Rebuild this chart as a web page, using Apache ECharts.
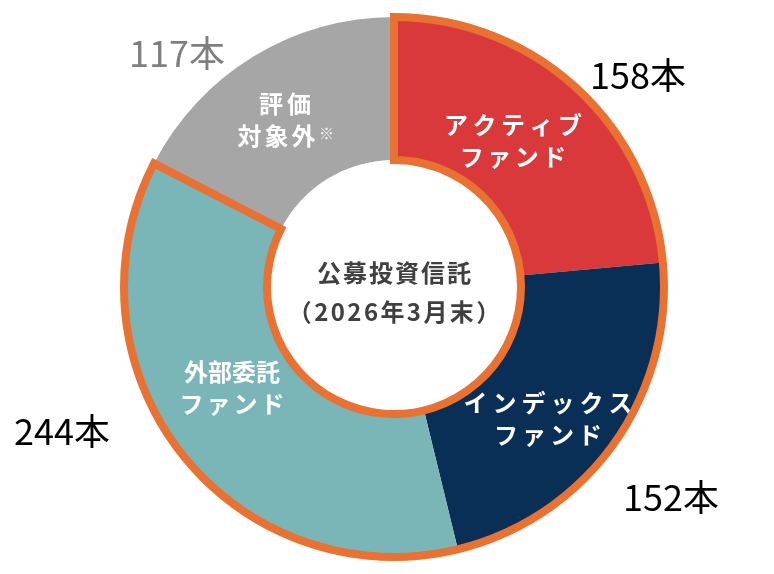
<!DOCTYPE html>
<html><head><meta charset="utf-8">
<script src="https://cdn.jsdelivr.net/npm/echarts@6/dist/echarts.min.js"></script>
<style>html,body{margin:0;padding:0;background:#fff}#c{width:774px;height:574px}</style>
</head><body><div id="c"></div>
<script>
const categories = ['アクティブ\nファンド', 'インデックス\nファンド', '外部委託\nファンド', '評価\n対象外'];
const values = [158, 152, 244, 117];
const unit = '本';
const note = '※';
const centerLines = ['公募投資信託', '（2026年3月末）'];

const colors = ['#D9393A', '#0A2F57', '#7AB5B8', '#A6A6A6'];
const orange = '#E97132';
const innerLabelPos = [[513, 141], [548, 419], [232, 388], [285, 120]];
const innerLabelSpacing = [[4.5, 3.5], [5, 4], [0, 3], [4, 3]];
const outerLabelPos = [[638, 75], [671, 497], [62, 431], [177, 53]];
const outerLabelColors = ['#000', '#000', '#000', '#7F7F7F'];

const center = [394, 287];
const radius = [127, 270];

const evaluated = values.slice(0, 3).reduce((a, b) => a + b, 0);
const fontFamily = '"Noto Sans CJK JP", "Noto Sans", sans-serif';

// rich text with letter spacing: each character is a token with side padding
function spaced(line, token) {
  return Array.from(line).map(c => '{' + token + '|' + c + '}').join('');
}
function richSpacing(base, sp) {
  return Object.assign({}, base, { padding: [0, sp / 2, 0, sp / 2] });
}

const innerBase = { color: '#fff', fontSize: 24, fontWeight: 'bold', fontFamily, lineHeight: 32 };

const chart = echarts.init(document.getElementById('c'));

chart.setOption({
  animation: false,
  series: [
    {
      type: 'pie', center, radius, startAngle: 90, clockwise: true, silent: true,
      data: values.map((v, i) => {
        const lines = categories[i].split('\n');
        const sp = innerLabelSpacing[i];
        let text = spaced(lines[0], 'l0') + '\n' + spaced(lines[1], 'l1');
        if (i === 3) text += '{n|' + note + '}';
        return {
          value: v, name: categories[i],
          itemStyle: { color: colors[i], borderWidth: 0 },
          label: {
            formatter: text,
            rich: {
              l0: richSpacing(innerBase, sp[0]),
              l1: richSpacing(innerBase, sp[1]),
              n: { color: '#F2F2F2', fontSize: 15, fontFamily, lineHeight: 32, verticalAlign: 'top', padding: [6, 0, 0, 2] }
            }
          }
        };
      }),
      label: { show: true, position: 'inside', align: 'center' },
      labelLine: { show: false },
      labelLayout: function (p) {
        const pos = innerLabelPos[p.dataIndex];
        return { x: pos[0], y: pos[1], align: 'center', verticalAlign: 'middle' };
      }
    },
    {
      type: 'pie', center, radius, startAngle: 90, clockwise: true, silent: true, z: 3,
      data: [
        { value: evaluated, name: 'evaluated', itemStyle: { color: 'rgba(0,0,0,0)', borderColor: orange, borderWidth: 8, borderJoin: 'miter' } },
        { value: values[3], name: 'other', itemStyle: { color: 'rgba(0,0,0,0)', borderWidth: 0 } }
      ],
      label: { show: false }, labelLine: { show: false }
    },
    {
      type: 'pie', center, radius, startAngle: 90, clockwise: true, silent: true, z: 4,
      data: values.map((v, i) => ({
        value: v, name: categories[i],
        itemStyle: { color: 'rgba(0,0,0,0)', borderWidth: 0 },
        label: { color: outerLabelColors[i] }
      })),
      label: {
        show: true, position: 'inside',
        formatter: p => p.value + unit,
        fontSize: 36, fontFamily
      },
      labelLine: { show: false },
      labelLayout: function (p) {
        const pos = outerLabelPos[p.dataIndex];
        return { x: pos[0], y: pos[1], align: 'center', verticalAlign: 'middle' };
      }
    }
  ],
  graphic: [
    { type: 'text', x: center[0], y: 273, silent: true,
      style: { text: spaced(centerLines[0], 'c'), rich: { c: { fontSize: 24, fontWeight: 'bold', fontFamily, fill: '#404040', padding: [0, 1, 0, 1] } },
        align: 'center', verticalAlign: 'middle' } },
    { type: 'text', x: center[0], y: 312, silent: true,
      style: { text: spaced(centerLines[1], 'c'), rich: { c: { fontSize: 24, fontWeight: 'bold', fontFamily, fill: '#404040', padding: [0, 1.2, 0, 1.2] } },
        align: 'center', verticalAlign: 'middle' } }
  ]
});
</script></body></html>
